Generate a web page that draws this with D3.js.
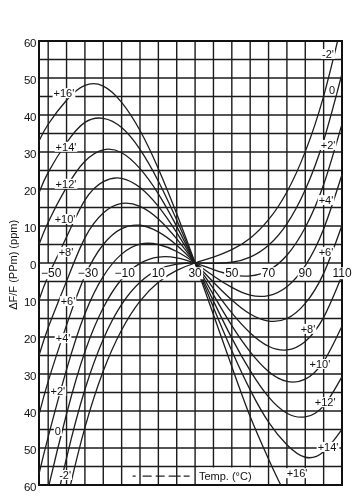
<!DOCTYPE html>
<html lang="en">
<head>
<meta charset="utf-8">
<title>AT-cut frequency vs temperature</title>
<script src="https://cdn.jsdelivr.net/npm/d3@7"></script>
<style>
    body { margin: 0; background: #fff; }
    svg { filter: grayscale(100%); }
    text { font-family: "Liberation Sans", Arial, sans-serif; fill: #111; }
</style>
</head>
<body>
<script>
var temps = [-55, -50, -40, -30, -20, -10, 0, 10, 20, 30, 40, 50, 60, 70, 80, 90, 100, 110];

// dF/F in ppm, one list per cut-angle offset
var curveM2  = [-100, -88, -64.7, -44.5, -29.2, -18.1, -10.3, -5.2, -2.0, 0, 1.6, 3.6, 6.7, 11.7, 19.2, 30.1, 45.1, 65.0];
var curve0   = [-88, -75, -52.7, -34.2, -20.6, -11.2, -5.2, -1.8, -0.3, 0, -0.1, 0.2, 1.6, 4.8, 10.6, 19.8, 33.1, 51.2];
var curveP2  = [-73, -61, -40.8, -24.0, -12.1, -4.4, -0.1, 1.6, 1.4, 0, -1.8, -3.2, -3.5, -2.0, 2.1, 9.6, 21.2, 37.6];
var curveP4  = [-57, -47, -28.8, -13.7, -3.6, 2.4, 5.1, 5.0, 3.1, 0, -3.5, -6.6, -8.7, -8.8, -6.4, -0.7, 9.2, 23.9];
var curveP6  = [-41, -32, -16.8, -3.5, 5.0, 9.3, 10.2, 8.4, 4.8, 0, -5.2, -10.0, -13.8, -15.7, -15.0, -10.9, -2.8, 10.2];
var curveP8  = [-25, -17.5, -4.9, 6.8, 13.5, 16.1, 15.3, 11.9, 6.5, 0, -6.9, -13.5, -18.9, -22.5, -23.5, -21.2, -14.7, -3.4];
var curveP10 = [-10, -3.5, 7.0, 17.0, 22.0, 22.9, 20.4, 15.3, 8.2, 0, -8.6, -16.9, -24.0, -29.3, -32.0, -31.4, -26.6, -17.0];
var curveP12 = [5, 11, 20.5, 27.5, 30.6, 29.8, 25.5, 18.7, 9.9, 0, -10.3, -20.3, -29.1, -36.2, -40.6, -41.6, -38.6, -30.7];
var curveP14 = [19, 24.5, 32.5, 38, 39.1, 36.6, 30.7, 22.1, 11.6, 0, -12.0, -23.7, -34.3, -43.0, -49.1, -52.5, -51, -45];
var curveP16 = [33, 37.5, 44, 48, 47.8, 43.4, 35.8, 25.5, 13.3, 0, -14, -28, -41.5, -53, -63, -68, -68, -64];

var angleNames = ["-2'", "0", "+2'", "+4'", "+6'", "+8'", "+10'", "+12'", "+14'", "+16'"];

// where each angle is written, [temp, ppm]: cold side and hot side
var labelCold = [[-40.8, -57.3], [-44.7, -45.4], [-44.7, -34.6], [-41.9, -20.3], [-39.2, -10.3],
                 [-40.3, 3.0], [-40.8, 11.9], [-40.3, 21.4], [-40.3, 31.4], [-41.4, 45.9]];
var labelHot  = [[102.4, 56.5], [104.6, 46.8], [102.4, 31.9], [101.3, 17.0], [101.3, 3.0],
                 [91.5, -17.8], [98.0, -27.3], [100.8, -37.6], [102.4, -49.7], [85.5, -56.8]];

var tempTicks = [-50, -30, -10, 10, 30, 50, 70, 90, 110];
var ppmTicksUp = [60, 50, 40, 30, 20, 10, 0];
var ppmTicksDown = [-10, -20, -30, -40, -50, -60];

var w = 360, h = 497;

var x = d3.scaleLinear().domain([-55, 110]).range([39, 342]);
var y = d3.scaleLinear().domain([60, -60]).range([41, 485]);

var svg = d3.select("body").append("svg")
    .attr("width", w).attr("height", h);

svg.append("rect").attr("width", w).attr("height", h).attr("fill", "#fff");

svg.append("clipPath").attr("id", "plot")
    .append("rect")
    .attr("x", x(-55)).attr("y", y(60))
    .attr("width", x(110) - x(-55)).attr("height", y(-60) - y(60));

var grid = svg.append("g").attr("stroke", "#1b1b1b").attr("stroke-width", 1.4);

// horizontal lines every 5 ppm
grid.selectAll("line.h")
    .data(d3.range(-60, 61, 5))
    .enter().append("line")
    .attr("x1", x(-55)).attr("x2", x(110))
    .attr("y1", d => y(d)).attr("y2", d => y(d));

// vertical lines every 10 °C, broken by the temperature band between 0 and -5
var vTemps = d3.range(-50, 101, 10);
grid.selectAll("line.vu")
    .data(vTemps).enter().append("line")
    .attr("x1", d => x(d)).attr("x2", d => x(d))
    .attr("y1", y(60)).attr("y2", y(0));
grid.selectAll("line.vd")
    .data(vTemps).enter().append("line")
    .attr("x1", d => x(d)).attr("x2", d => x(d))
    .attr("y1", y(-5)).attr("y2", y(-60));
grid.selectAll("line.vb")
    .data(vTemps.filter(d => (d + 40) % 20 == 0)).enter().append("line")
    .attr("x1", d => x(d)).attr("x2", d => x(d))
    .attr("y1", y(0)).attr("y2", y(-5));

// frame
svg.append("rect")
    .attr("x", x(-55)).attr("y", y(60))
    .attr("width", x(110) - x(-55)).attr("height", y(-60) - y(60))
    .attr("fill", "none").attr("stroke", "#111").attr("stroke-width", 2);

// curves
var series = [curveM2, curve0, curveP2, curveP4, curveP6, curveP8, curveP10, curveP12, curveP14, curveP16];

var line = d3.line()
    .x((d, i) => x(temps[i]))
    .y(d => y(d))
    .curve(d3.curveNatural);

svg.append("g").attr("clip-path", "url(#plot)")
    .selectAll("path")
    .data(series).enter().append("path")
    .attr("d", line)
    .attr("fill", "none")
    .attr("stroke", "#1e1e1e")
    .attr("stroke-width", 1.3);

// helper: text with a white patch behind it, in its own group
function boxedText(parent, tx, ty, str, size) {
    var g = parent.append("g");
    var bg = g.append("rect").attr("fill", "#fff");
    var t = g.append("text")
        .attr("x", tx).attr("y", ty)
        .attr("text-anchor", "middle")
        .attr("dominant-baseline", "central")
        .style("font-size", size + "px")
        .text(str);
    var b = t.node().getBBox();
    bg.attr("x", b.x - 1).attr("y", b.y + 1)
        .attr("width", b.width + 2).attr("height", b.height - 2);
    return t;
}

// temperature labels in the band
var band = svg.append("g");
tempTicks.forEach(function(t) {
    var shift = t < 0 ? 3 : 0;
    boxedText(band, x(t) + shift, (y(0) + y(-5)) / 2 + 1, t < 0 ? "\u2212" + Math.abs(t) : String(t), 12);
});

// angle labels
var lab = svg.append("g");
angleNames.forEach(function(name, i) {
    boxedText(lab, x(labelCold[i][0]), y(labelCold[i][1]), name, 11);
    boxedText(lab, x(labelHot[i][0]), y(labelHot[i][1]), name, 11);
});

// ppm tick labels
svg.append("g").selectAll("text")
    .data(ppmTicksUp.concat(ppmTicksDown))
    .enter().append("text")
    .attr("x", x(-55) - 3)
    .attr("y", d => y(d) + 2)
    .attr("text-anchor", "end")
    .attr("dominant-baseline", "central")
    .style("font-size", "11.5px")
    .style("letter-spacing", "-0.4px")
    .text(d => Math.abs(d));

// axis title
svg.append("text")
    .attr("transform", "translate(13," + y(-0.5) + ") rotate(-90)")
    .attr("text-anchor", "middle")
    .attr("dominant-baseline", "central")
    .style("font-size", "11px")
    .text("\u0394F/F (PPm) (ppm)");

// temperature key at the bottom
var keyY = y(-57.6);
var key = svg.append("g");
key.append("line")
    .attr("x1", x(-4)).attr("x2", x(27))
    .attr("y1", keyY).attr("y2", keyY)
    .attr("stroke", "#222").attr("stroke-width", 1.3)
    .attr("stroke-dasharray", "3,7,9,4,9,4,12");
var keyBg = key.append("rect").attr("fill", "#fff");
var keyText = key.append("text")
    .attr("x", x(31) + 2).attr("y", keyY)
    .attr("dominant-baseline", "central")
    .style("font-size", "11px")
    .text("Temp. (\u00b0C)");
var kb = keyText.node().getBBox();
keyBg.attr("x", kb.x - 1).attr("y", y(-55) + 1)
    .attr("width", kb.width + 3).attr("height", y(-60) - y(-55) - 2);
</script>
</body>
</html>
